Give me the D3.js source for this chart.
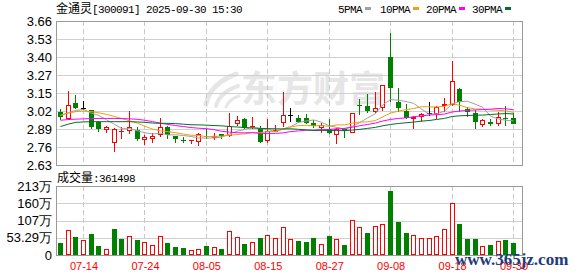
<!DOCTYPE html>
<html>
<head>
<meta charset="utf-8">
<title>金通灵 日K</title>
<script src="https://d3js.org/d3.v7.min.js"></script>
<style>
  body { margin: 0; background: #fff; }
  svg { display: block; }
  .mono { font-family: "Liberation Mono", monospace; font-size: 11px; letter-spacing: -0.6px; }
  .cjk { font-family: "Noto Sans CJK SC", sans-serif; font-size: 12px; }
</style>
</head>
<body>
<svg id="chart" width="578" height="276"></svg>
<script>
// trading days shown (07-09 .. 09-30)
var dates = ["07-09","07-10","07-11","07-14","07-15","07-16","07-17","07-18","07-21","07-22",
  "07-23","07-24","07-25","07-28","07-29","07-30","07-31","08-01","08-04","08-05",
  "08-06","08-07","08-08","08-11","08-12","08-13","08-14","08-15","08-18","08-19",
  "08-20","08-21","08-22","08-25","08-26","08-27","08-28","08-29","09-01","09-02",
  "09-03","09-04","09-05","09-08","09-09","09-10","09-11","09-12","09-15","09-16",
  "09-17","09-18","09-19","09-22","09-23","09-24","09-25","09-26","09-29","09-30"];

var open  = [3.01,2.96,3.07,3.037,3.02,2.94,2.88,2.79,2.865,2.87, 2.88,2.807,2.815,2.845,2.905,2.835,2.812,2.80,2.795,2.837,
  2.825,2.852,2.838,2.92,2.958,2.903,2.887,2.805,2.865,2.933, 2.99,2.965,2.967,2.932,2.895,2.885,2.842,2.89,2.862,3.062,
  3.052,3.007,3.035,3.405,3.083,3.018,2.962,2.971,3.0,2.995, 3.052,3.059,3.174,3.028,3.0,2.917,2.935,2.924,2.967,2.963];
var high  = [3.03,3.16,3.13,3.09,3.025,2.945,2.91,2.895,2.905,3.017, 2.905,2.842,2.86,2.965,2.91,2.84,2.832,2.806,2.857,2.885,
  2.857,2.855,3.0,2.983,2.965,2.975,2.91,2.96,2.918,3.153, 3.04,2.99,2.995,2.955,2.928,2.958,2.895,2.895,3.0,3.10,
  3.138,3.155,3.202,3.576,3.178,3.066,2.983,3.0,3.083,3.05, 3.11,3.375,3.18,3.047,3.023,2.96,2.96,3.007,3.052,3.0];
var low   = [2.95,2.95,3.03,3.02,2.885,2.865,2.86,2.72,2.815,2.85, 2.80,2.77,2.79,2.832,2.815,2.79,2.785,2.782,2.768,2.815,
  2.806,2.815,2.832,2.912,2.887,2.89,2.787,2.787,2.864,2.905, 2.935,2.928,2.921,2.892,2.862,2.85,2.78,2.82,2.86,2.985,
  3.005,3.0,3.018,3.083,3.01,2.96,2.885,2.94,2.983,2.96, 3.01,3.055,3.01,2.97,2.885,2.905,2.91,2.908,2.908,2.92];
var close = [2.97,3.06,3.035,3.037,2.905,2.89,2.90,2.887,2.87,2.905, 2.815,2.83,2.838,2.90,2.843,2.818,2.805,2.806,2.85,2.83,
  2.838,2.834,2.909,2.952,2.893,2.907,2.792,2.875,2.877,2.985, 2.99,2.938,2.93,2.91,2.915,2.858,2.885,2.876,3.0,3.058,
  3.018,3.035,3.20,3.18,3.035,2.968,2.972,2.995,3.0,3.047, 3.063,3.231,3.078,3.012,2.94,2.952,2.92,2.975,2.963,2.92];
// volume in 万
var volume = [38,77,56.5,46,66,28,18.5,80,49,59, 46,40,31,59,37,26,22.5,15,18.5,28,
  25,19.5,74,55.5,35,40,52,62,52,86, 49,44,40,52,34,59,48,31,108,85,
  68,89.5,96,198,102,68,62,52,52,59, 80,160,96,49,49,27,31,43,46,36.1498];

var ma5  = [2.985,3.005,3.02,3.028,3.001,2.985,2.953,2.922,2.890,2.890, 2.875,2.861,2.852,2.858,2.845,2.846,2.841,2.834,2.824,2.822,
  2.824,2.830,2.851,2.872,2.884,2.899,2.891,2.884,2.869,2.888, 2.905,2.934,2.945,2.952,2.936,2.910,2.899,2.888,2.906,2.935,
  2.967,2.997,3.062,3.098,3.094,3.084,3.071,3.031,2.994,2.996, 3.015,3.067,3.083,3.086,3.065,3.043,2.980,2.960,2.950,2.946];
var ma10 = [2.985,3.000,3.012,3.016,3.012,3.003,2.992,2.978,2.962,2.946, 2.930,2.907,2.887,2.874,2.868,2.861,2.851,2.843,2.841,2.833,
  2.835,2.836,2.843,2.848,2.853,2.862,2.861,2.868,2.870,2.886, 2.902,2.912,2.914,2.910,2.912,2.907,2.917,2.917,2.929,2.936,
  2.939,2.948,2.975,3.002,3.015,3.026,3.034,3.047,3.046,3.045, 3.049,3.069,3.057,3.040,3.031,3.029,3.024,3.021,3.018,3.006];
var ma20 = [2.950,2.955,2.958,2.960,2.962,2.963,2.963,2.963,2.962,2.960, 2.957,2.950,2.940,2.930,2.920,2.912,2.905,2.898,2.893,2.890,
  2.883,2.871,2.865,2.861,2.860,2.861,2.856,2.855,2.856,2.860, 2.869,2.874,2.879,2.879,2.883,2.885,2.889,2.892,2.900,2.911,
  2.920,2.930,2.945,2.956,2.963,2.967,2.975,2.982,2.987,2.990, 2.994,3.009,3.016,3.021,3.023,3.027,3.029,3.034,3.032,3.025];
var ma30 = [2.905,2.922,2.935,2.938,2.940,2.940,2.940,2.940,2.940,2.940, 2.938,2.935,2.930,2.928,2.928,2.926,2.922,2.918,2.917,2.915,
  2.912,2.910,2.905,2.902,2.898,2.895,2.892,2.890,2.889,2.888, 2.889,2.885,2.881,2.877,2.878,2.877,2.876,2.876,2.880,2.885,
  2.892,2.899,2.911,2.920,2.927,2.932,2.937,2.944,2.948,2.956, 2.963,2.977,2.982,2.984,2.986,2.987,2.991,2.995,2.998,2.995];

var priceTicks  = [2.63,2.75875,2.8875,3.01625,3.145,3.27375,3.4025,3.53125,3.66];
var priceLabels = ["2.63","2.76","2.89","3.02","3.15","3.27","3.40","3.53","3.66"];
var volTicks  = [0,53.29,106.58,159.87,213.16];
var volLabels = ["0","53.29万","107万","160万","213万"];
var dateTicks = ["07-14","07-24","08-05","08-15","08-27","09-08","09-18","09-30"];

var maNames  = ["5PMA","10PMA","20PMA","30PMA"];
var maColors = ["#a0a0a0","#f0a010","#ff00ff","#00702a"];
var maSeries = [ma5, ma10, ma20, ma30];

var L = 56, R = 522, PT = 21, PB = 165, VT = 186, VB = 255;
var UP = "#ff0000", DOWN = "#008000";

var svg = d3.select("#chart");
var x = d3.scalePoint().domain(dates).range([60.5, 513.5]);
var y = d3.scaleLinear().domain([2.63, 3.66]).range([PB, PT]);
var vy = d3.scaleLinear().domain([0, 213.16]).range([VB, VT]);

// watermark
var wm = svg.append("g").attr("fill", "#e6e6e6").attr("stroke", "#e6e6e6");
wm.append("path").attr("fill", "none").attr("stroke-width", 5).attr("stroke-linecap", "round")
  .attr("d", "M206,104 Q210,84 236,74");
wm.append("path").attr("fill", "none").attr("stroke-width", 4).attr("stroke-linecap", "round")
  .attr("d", "M216,106 Q220,92 238,86");
wm.append("path").attr("fill", "none").attr("stroke-width", 3).attr("stroke-linecap", "round")
  .attr("d", "M226,107 Q229,99 239,96");
wm.append("text").attr("x", 241).attr("y", 102).attr("stroke", "none")
  .style("font-family", "Noto Sans CJK SC").style("font-size", "36px").style("font-weight", "bold")
  .text("东方财富");

// grids
var grid = svg.append("g").attr("shape-rendering", "crispEdges");
grid.selectAll(".hp").data(priceTicks.slice(1, -1)).enter().append("line")
  .attr("x1", L).attr("x2", R).attr("y1", d => Math.round(y(d)) + 0.5).attr("y2", d => Math.round(y(d)) + 0.5)
  .attr("stroke", "#d0d0d0");
grid.selectAll(".hv").data(volTicks.slice(1, -1)).enter().append("line")
  .attr("x1", L).attr("x2", R).attr("y1", d => Math.round(vy(d)) + 0.5).attr("y2", d => Math.round(vy(d)) + 0.5)
  .attr("stroke", "#d0d0d0");
[[PT, PB], [VT, VB]].forEach(function (r) {
  grid.selectAll(null).data(dateTicks).enter().append("line")
    .attr("x1", d => Math.floor(x(d)) + 0.5).attr("x2", d => Math.floor(x(d)) + 0.5)
    .attr("y1", r[0]).attr("y2", r[1])
    .attr("stroke", "#c8c8c8").attr("stroke-dasharray", "5,3");
});
grid.append("rect").attr("x", L + 0.5).attr("y", PT + 0.5).attr("width", R - L).attr("height", PB - PT)
  .attr("fill", "none").attr("stroke", "#999");
grid.append("rect").attr("x", L + 0.5).attr("y", VT + 0.5).attr("width", R - L).attr("height", VB - VT)
  .attr("fill", "none").attr("stroke", "#999");

// candles
var candles = dates.map(function (d, i) {
  return {date: d, o: open[i], h: high[i], l: low[i], c: close[i], v: volume[i],
          pc: i > 0 ? close[i - 1] : open[i]};
});
var cg = svg.append("g").attr("shape-rendering", "crispEdges");
candles.forEach(function (k) {
  var px = Math.floor(x(k.date));
  var col = k.c > k.o ? UP : (k.c < k.o ? DOWN : "#000");
  var top = Math.round(y(Math.max(k.o, k.c))), bot = Math.round(y(Math.min(k.o, k.c)));
  var yh = Math.round(y(k.h)), yl = Math.round(y(k.l));
  if (yh < top) cg.append("line").attr("x1", px + 0.5).attr("x2", px + 0.5).attr("y1", yh).attr("y2", top).attr("stroke", col);
  if (yl > bot) cg.append("line").attr("x1", px + 0.5).attr("x2", px + 0.5).attr("y1", bot).attr("y2", yl).attr("stroke", col);
  if (k.c === k.o || bot - top < 2) {
    cg.append("line").attr("x1", px - 2).attr("x2", px + 3).attr("y1", top + 0.5).attr("y2", top + 0.5).attr("stroke", col);
    if (yh >= top && yl <= bot) {}
  } else if (k.c > k.o) {
    cg.append("rect").attr("x", px - 1.5).attr("y", top + 0.5).attr("width", 4).attr("height", bot - top - 1)
      .attr("fill", "#fff").attr("stroke", col);
  } else {
    cg.append("rect").attr("x", px - 2).attr("y", top).attr("width", 5).attr("height", bot - top).attr("fill", col);
  }
});

// moving averages
maSeries.forEach(function (s, j) {
  svg.append("path").datum(s)
    .attr("d", d3.line().x((v, i) => x(dates[i])).y(v => y(v)))
    .attr("fill", "none").attr("stroke", maColors[j]).attr("stroke-width", 1);
});

// volume bars (colour by close vs previous close)
var vg = svg.append("g").attr("shape-rendering", "crispEdges");
candles.forEach(function (k) {
  var px = Math.floor(x(k.date));
  var top = Math.round(vy(k.v));
  if (k.c >= k.pc && k !== candles[0]) {
    vg.append("rect").attr("x", px - 1.5).attr("y", top + 0.5).attr("width", 4).attr("height", VB - top - 1)
      .attr("fill", "#fff").attr("stroke", UP);
  } else {
    vg.append("rect").attr("x", px - 2).attr("y", top).attr("width", 5).attr("height", VB - top).attr("fill", DOWN);
  }
});

// axes labels
function styleAxis(g) {
  g.select(".domain").remove();
  g.selectAll("text").attr("font-family", "Liberation Sans, Arial, sans-serif").attr("font-size", 13).attr("fill", "#000");
}
svg.append("g").attr("transform", "translate(" + L + ",0)")
  .call(d3.axisLeft(y).tickValues(priceTicks).tickFormat((d, i) => priceLabels[i]).tickSize(0).tickPadding(4))
  .call(styleAxis);
svg.append("g").attr("transform", "translate(" + L + ",0)")
  .call(d3.axisLeft(vy).tickValues(volTicks).tickFormat((d, i) => volLabels[i]).tickSize(0).tickPadding(4))
  .call(styleAxis);
svg.append("g").attr("transform", "translate(0," + VB + ")")
  .call(d3.axisBottom(x).tickValues(dateTicks).tickSize(0).tickPadding(7))
  .call(function (g) {
    g.select(".domain").remove();
    g.selectAll("text").attr("font-family", "Liberation Sans, Arial, sans-serif").attr("font-size", 11).attr("fill", UP);
  });

// title
var title = svg.append("text").attr("x", L).attr("y", 12.5).style("white-space", "pre").attr("fill", "#000");
title.append("tspan").attr("class", "cjk").text("金通灵");
title.append("tspan").attr("class", "mono").text("[300091] 2025-09-30 15:30");

// volume caption
var vcap = svg.append("text").attr("x", 57).attr("y", 181.5).style("white-space", "pre").attr("fill", "#000");
vcap.append("tspan").attr("class", "cjk").text("成交量");
vcap.append("tspan").attr("class", "mono").text(":" + Math.round(volume[volume.length - 1] * 10000));

// legend
var lgX = [338, 380, 426, 472];
maNames.forEach(function (n, j) {
  svg.append("text").attr("class", "mono").attr("x", lgX[j]).attr("y", 12.5).attr("fill", "#000").text(n);
  svg.append("rect").attr("x", lgX[j] + n.length * 6 + 3).attr("y", 7).attr("width", 6).attr("height", 3)
    .attr("fill", maColors[j]);
});

// site watermark
svg.append("text").attr("x", 455).attr("y", 265)
  .style("font-family", "Liberation Serif, serif").style("font-size", "17px").style("font-weight", "bold")
  .attr("fill", "#1d3c7c").text("www.365jz.com");
</script>
</body>
</html>
